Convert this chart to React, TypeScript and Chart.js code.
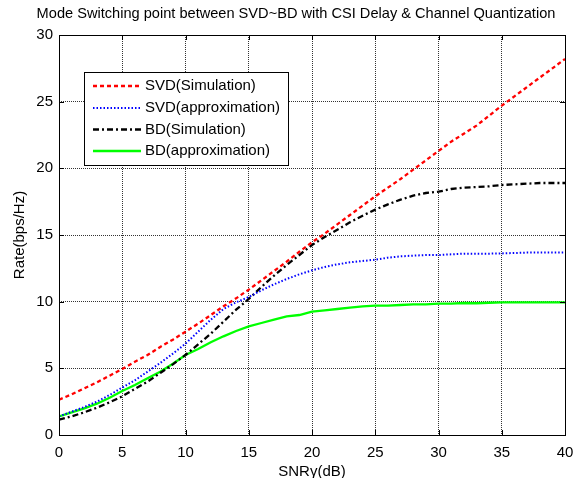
import React, { useEffect, useRef } from "react";
import { Chart, registerables } from "chart.js";

Chart.register(...registerables);

const SNR_DB = [0, 1, 2, 3, 4, 5, 6, 7, 8, 9, 10, 11, 12, 13, 14, 15, 16, 17, 18, 19, 20, 21, 22, 23, 24, 25, 26, 27, 28, 29, 30, 31, 32, 33, 34, 35, 36, 37, 38, 39, 40];

const SVD_SIM = [2.65, 3.05, 3.5, 3.95, 4.45, 4.95, 5.5, 6.0, 6.6, 7.15, 7.75, 8.35, 9.0, 9.65, 10.25, 10.9, 11.6, 12.3, 13.0, 13.75, 14.45, 15.1, 15.8, 16.5, 17.2, 17.9, 18.55, 19.2, 19.9, 20.6, 21.3, 22.0, 22.6, 23.2, 23.95, 24.7, 25.4, 26.1, 26.8, 27.5, 28.2];

const SVD_APPROX = [1.4, 1.75, 2.1, 2.5, 3.0, 3.55, 4.1, 4.75, 5.4, 6.1, 6.85, 7.75, 8.65, 9.45, 9.95, 10.35, 10.85, 11.3, 11.7, 12.05, 12.35, 12.6, 12.8, 12.95, 13.05, 13.15, 13.3, 13.4, 13.45, 13.5, 13.5, 13.55, 13.6, 13.6, 13.6, 13.62, 13.65, 13.68, 13.68, 13.68, 13.68];

const BD_SIM = [1.15, 1.4, 1.7, 2.05, 2.45, 2.9, 3.45, 4.0, 4.65, 5.3, 6.0, 6.8, 7.6, 8.5, 9.4, 10.2, 11.1, 11.95, 12.75, 13.5, 14.25, 14.85, 15.4, 15.95, 16.45, 16.9, 17.3, 17.65, 17.95, 18.15, 18.25, 18.45, 18.55, 18.6, 18.65, 18.75, 18.8, 18.85, 18.9, 18.9, 18.9];

const BD_APPROX = [1.4, 1.7, 2.0, 2.35, 2.8, 3.3, 3.75, 4.25, 4.75, 5.35, 6.0, 6.45, 6.95, 7.4, 7.8, 8.15, 8.4, 8.65, 8.9, 9.0, 9.25, 9.35, 9.45, 9.55, 9.65, 9.7, 9.7, 9.75, 9.8, 9.8, 9.85, 9.85, 9.9, 9.88, 9.92, 9.95, 9.95, 9.95, 9.95, 9.95, 9.95];

const SERIES_LABELS = ["SVD(Simulation)", "SVD(approximation)", "BD(Simulation)", "BD(approximation)"];
const TITLE = "Mode Switching point between SVD~BD with CSI Delay & Channel Quantization";
const X_TITLE = "SNR\u03b3(dB)";
const Y_TITLE = "Rate(bps/Hz)";

const FONT = "'Liberation Sans', Arial, sans-serif";

const toXY = (ys: number[]) => ys.map((y, i) => ({ x: SNR_DB[i], y }));

const framePlugin = {
  id: "frame",
  afterDraw(chart: any) {
    const { ctx, chartArea } = chart;
    const { left, right, top, bottom } = chartArea;
    ctx.save();
    ctx.setLineDash([]);
    ctx.strokeStyle = "#000";
    ctx.lineWidth = 1;
    ctx.strokeRect(left + 0.5, top + 0.5, right - left, bottom - top);
    const xs = chart.scales.x;
    const ys = chart.scales.y;
    const tl = 5;
    ctx.beginPath();
    xs.ticks.forEach((t: any) => {
      const px = Math.round(xs.getPixelForValue(t.value)) + 0.5;
      ctx.moveTo(px, bottom);
      ctx.lineTo(px, bottom - tl);
      ctx.moveTo(px, top);
      ctx.lineTo(px, top + tl);
    });
    ys.ticks.forEach((t: any) => {
      const py = Math.round(ys.getPixelForValue(t.value)) + 0.5;
      ctx.moveTo(left, py);
      ctx.lineTo(left + tl, py);
      ctx.moveTo(right, py);
      ctx.lineTo(right - tl, py);
    });
    ctx.stroke();

    ctx.fillStyle = "#000";
    ctx.font = `14.6px ${FONT}`;
    ctx.textAlign = "center";
    ctx.textBaseline = "middle";
    ctx.fillText(TITLE, 296, 14);

    const bx = 84, by = 72, bw = 204, bh = 93;
    ctx.fillStyle = "#fff";
    ctx.fillRect(bx, by, bw, bh);
    ctx.strokeStyle = "#000";
    ctx.lineWidth = 1;
    ctx.strokeRect(bx + 0.5, by + 0.5, bw, bh);
    const rows = [86, 108, 129.5, 151];
    chart.data.datasets.forEach((ds: any, i: number) => {
      const y = rows[i];
      ctx.save();
      ctx.strokeStyle = ds.borderColor;
      ctx.lineWidth = ds.borderWidth;
      ctx.setLineDash(ds.borderDash || []);
      ctx.beginPath();
      ctx.moveTo(93, y);
      ctx.lineTo(141, y);
      ctx.stroke();
      ctx.restore();
      ctx.fillStyle = "#000";
      ctx.font = `15px ${FONT}`;
      ctx.textAlign = "left";
      ctx.textBaseline = "middle";
      ctx.fillText(ds.label, 145, y);
    });
    ctx.restore();
  },
};

export default function App() {
  const ref = useRef<HTMLCanvasElement | null>(null);

  useEffect(() => {
    document.body.style.margin = "0";
    const canvas = ref.current;
    if (!canvas) return;
    const gridCommon = {
      color: "#333",
      lineWidth: 1,
      drawTicks: false,
      tickLength: 0,
    };
    const chart = new Chart(canvas, {
      type: "line",
      data: {
        datasets: [
          {
            label: SERIES_LABELS[0],
            data: toXY(SVD_SIM),
            borderColor: "#ff0000",
            borderWidth: 2.3,
            borderDash: [4, 3],
            pointRadius: 0,
            fill: false,
          },
          {
            label: SERIES_LABELS[1],
            data: toXY(SVD_APPROX),
            borderColor: "#0000ff",
            borderWidth: 2,
            borderDash: [1.5, 2],
            pointRadius: 0,
            fill: false,
          },
          {
            label: SERIES_LABELS[2],
            data: toXY(BD_SIM),
            borderColor: "#000000",
            borderWidth: 2.3,
            borderDash: [6, 3, 2, 3],
            pointRadius: 0,
            fill: false,
          },
          {
            label: SERIES_LABELS[3],
            data: toXY(BD_APPROX),
            borderColor: "#00ff00",
            borderWidth: 2.3,
            pointRadius: 0,
            fill: false,
          },
        ],
      },
      options: {
        responsive: false,
        animation: false,
        layout: { padding: { top: 35, right: 19, bottom: 0, left: 0 } },
        plugins: {
          legend: { display: false },
          title: { display: false },
          tooltip: { enabled: false },
        },
        scales: {
          x: {
            type: "linear",
            min: 0,
            max: 40,
            ticks: {
              stepSize: 5,
              color: "#000",
              padding: 9,
              font: { family: FONT, size: 15 },
            },
            grid: { ...gridCommon },
            border: { display: false, dash: [1, 1] },
            title: {
              display: true,
              text: X_TITLE,
              color: "#000",
              font: { family: FONT, size: 15, lineHeight: 1 },
              padding: { top: 0, bottom: -1 },
            },
            afterFit: (s: any) => {
              s.height = 43;
            },
          },
          y: {
            type: "linear",
            min: 0,
            max: 30,
            ticks: {
              stepSize: 5,
              color: "#000",
              padding: 6,
              font: { family: FONT, size: 15 },
            },
            grid: { ...gridCommon },
            border: { display: false, dash: [1, 1] },
            title: {
              display: true,
              text: Y_TITLE,
              color: "#000",
              font: { family: FONT, size: 15, lineHeight: 1 },
              padding: { top: 12.5, bottom: 0 },
            },
            afterFit: (s: any) => {
              s.width = 59;
            },
          },
        },
      } as any,
      plugins: [framePlugin],
    });
    return () => chart.destroy();
  }, []);

  return (
    <div style={{ width: 584, height: 478, background: "#fff" }}>
      <canvas ref={ref} width={584} height={478} style={{ display: "block" }} />
    </div>
  );
}
